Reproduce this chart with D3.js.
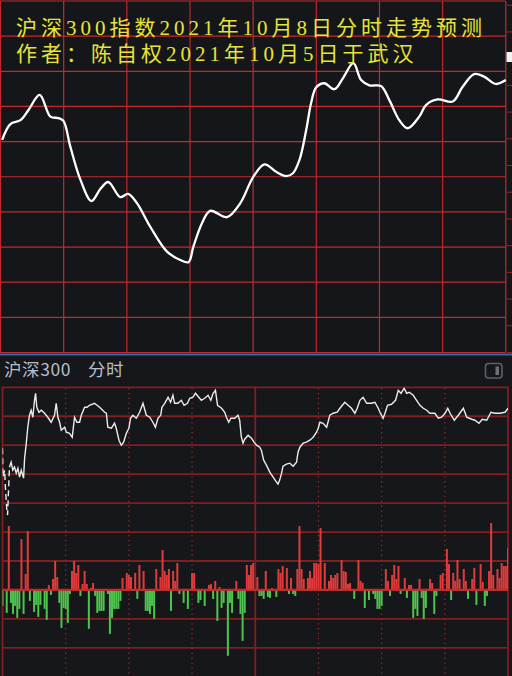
<!DOCTYPE html>
<html><head><meta charset="utf-8">
<script src="https://cdn.jsdelivr.net/npm/d3@7"></script>
<style>html,body{margin:0;padding:0;background:#151619;overflow:hidden}svg{display:block}</style>
</head><body>
<svg id="c" width="512" height="676"></svg>
<script>
// ---------- DATA ----------
const titleLines = ["沪深300指数2021年10月8日分时走势预测", "作者：陈自权2021年10月5日于武汉"];
const headerLabels = ["沪深300", "分时"];

// forecast curve (top panel): minute of session, index level
const forecastMinutes = [0.8,4.7,9.5,13.3,18.6,23.7,27.5,29.9,33.2,38,43.2,47.4,51.2,56.9,60.6,64.8,71.2,79.1,85.4,89.3,91.6,95.7,99.6,107.5,113.9,120,125.4,130.9,135.7,138.9,142,145.2,147.5,149.9,153.8,158.6,162.6,167.6,171.3,175.2,180.7,184.7,189.4,193.4,198.9,202.1,207.6,214.8,219.5,225,229.7,235.3,240];
const forecastValues = [4910.5,4915,4916.1,4919,4923.3,4917.1,4916.7,4915.9,4908.5,4899.1,4893.1,4896.5,4898.5,4894.2,4895.1,4892.5,4885.7,4878.7,4876.3,4875.7,4880.1,4886.8,4890.3,4888.5,4892.5,4899.9,4903.5,4901.4,4900.2,4901,4904.8,4913.3,4920.9,4925.4,4926.6,4924.9,4928,4932.3,4927.5,4926,4925.8,4921.8,4916.1,4913.8,4917.1,4920.4,4922,4921.4,4925.6,4929.2,4928.5,4926.4,4927.5];

// actual intraday line (bottom panel)
const actualMinutes = [0,0.2,1,1.4,2.1,2.4,3.3,4.1,4.9,5.7,
 6.5,7.3,8.1,8.9,10,10.5,11.3,12,12.8,13.6,
 14.4,15.2,15.7,16.3,17.3,18.4,20,21.5,23.1,24.7,
 25.5,26.3,27.1,27.9,29.5,30.3,31.8,33.1,34.2,35.3,
 36.6,37.4,39,40.1,41.3,43.7,46.1,48.5,49.3,50,
 51.7,53.2,54,55.3,56.4,57.5,58.8,60,60.8,61.9,
 63.5,65.1,66.7,68.3,69.9,71.4,72.6,73.8,75.1,75.7,
 77,78.6,79.8,80.9,81.7,83.3,84.9,86.2,87.8,88.9,
 90.4,91.6,92.8,94.4,96,97.6,98.9,100,101.1,102.1,
 104,105.5,106.3,107.4,108.4,110.3,111.8,112.6,113.4,114.2,
 115,116.6,118.2,119.4,120.6,122.1,122.9,124,125.3,126.9,
 128.5,130.1,130.8,131.6,132.5,133.2,134.8,136.4,138,139.6,
 140.3,141.2,142.7,144.3,145.9,147.5,149.1,149.9,150.7,152.2,
 153.9,155.4,157,158.9,160.2,162.5,164.1,165.7,167.3,168.4,
 169.7,171.2,172.9,175.2,176.8,178.4,179.2,180.7,181.6,182.8,
 184.7,186.6,187.9,189.2,190.7,191.9,193.1,195,196.6,198.2,
 199.8,201.4,202.9,205.3,206.9,208.5,210.1,211.4,212.5,214.5,
 216.4,218.8,220.4,222.8,224.3,226.2,227.8,229.9,231.9,233.8,
 236.2,238.6,240];
const actualValues = [4897,4868,4875,4857,4833,4830,4878,4883,4875,4878,
 4872,4877,4868,4875,4867,4887,4902,4918,4930,4935,
 4928,4945,4952,4938,4933,4935,4932,4928,4923,4930,
 4942,4928,4923,4915,4918,4913,4912,4908,4928,4923,
 4923,4930,4938,4938,4940,4942,4938,4933,4932,4918,
 4917,4922,4917,4905,4900,4903,4912,4917,4927,4930,
 4927,4933,4942,4930,4928,4923,4918,4927,4930,4938,
 4942,4948,4943,4950,4942,4942,4945,4940,4942,4947,
 4948,4952,4949,4945,4947,4950,4945,4952,4955,4940,
 4937,4933,4928,4923,4927,4927,4930,4925,4908,4902,
 4906,4910,4907,4903,4900,4898,4895,4885,4880,4873,
 4868,4863,4861,4865,4872,4879,4881,4882,4879,4883,
 4893,4898,4902,4903,4905,4908,4913,4917,4923,4922,
 4918,4930,4932,4933,4937,4943,4940,4937,4932,4937,
 4945,4948,4942,4942,4943,4937,4933,4927,4932,4940,
 4941,4945,4955,4952,4957,4952,4953,4950,4945,4940,
 4937,4935,4932,4932,4927,4928,4932,4937,4932,4925,
 4930,4937,4928,4926,4925,4922,4926,4925,4933,4932,
 4932,4933,4937];

// red / green bars (bottom panel)
const flowMinutes = [0,2,3,4,5,6,7,8,9,10,
 11,12,13,15,16,17,18,20,21,22,
 23,24,25,26,27,28,29,30,31,32,
 33,34,35,36,37,38,39,40,41,42,
 43,44,45,46,47,48,50,51,52,53,
 54,55,56,57,59,60,61,63,64,65,
 67,68,69,70,71,72,73,75,76,77,
 78,79,80,81,82,83,84,86,88,90,
 91,93,94,96,98,99,100,101,102,103,
 104,105,107,108,109,111,112,113,114,115,
 116,117,118,119,121,122,123,124,125,126,
 127,128,130,131,132,133,135,136,137,138,
 139,140,141,142,143,144,145,146,147,148,
 149,150,151,153,155,156,157,158,159,161,
 162,163,164,165,167,169,170,171,172,174,
 176,177,178,179,180,182,183,184,185,186,
 187,188,189,191,192,193,194,195,196,197,
 198,199,200,201,203,204,205,206,208,209,
 211,212,213,214,215,216,217,219,220,221,
 223,224,225,227,228,229,230,231,232,233,
 234,235,236,237,238,239,240];
const flowValues = [-16,-23,64,-13,-24,-16,-28,-19,51,-24,
 16,59,-11,-22,-15,-27,-15,-19,-30,5,
 -5,11,29,13,-13,-38,-18,-19,-33,-4,
 19,29,17,25,-6,6,19,6,-39,2,
 7,-6,-23,-21,-21,-21,-4,-44,-28,-19,
 -19,-19,-11,12,17,15,13,17,-9,25,
 19,-21,-21,-24,-16,-29,21,13,40,19,
 15,21,-21,19,9,27,-4,-13,-19,17,
 17,-13,-10,-16,5,6,-9,9,-31,3,
 -18,-13,-66,-13,-23,9,-9,-24,-51,-23,
 25,15,25,27,13,-6,-6,-9,19,-7,
 -8,2,-7,21,17,24,22,-4,12,-4,
 -6,21,64,21,11,-1,12,19,12,27,
 27,26,62,27,9,15,12,15,17,30,
 19,18,6,7,-9,30,9,7,-18,-10,
 -4,-9,-19,-19,-16,21,9,-6,15,25,
 11,24,-4,12,-8,5,5,-28,-19,-26,
 11,-8,-29,-18,11,7,-24,-6,15,17,
 41,26,-10,17,9,30,11,21,9,-9,
 11,22,-15,26,8,-16,-6,19,67,15,
 -1,21,12,27,24,24,42];

// ---------- DRAW ----------
const svg = d3.select("#c");
const W = 512, H = 676;

// ===== top panel =====
svg.append("rect").attr("x",0).attr("y",0).attr("width",W).attr("height",354).attr("fill","#151619");
const xTop = d3.scaleLinear().domain([0,240]).range([0.5,505.8]);
const yTop = d3.scaleLinear().domain([4850,4950]).range([352.5,1]);
const gTop = svg.append("g");
gTop.selectAll("line.h").data(d3.range(4850,4951,10)).join("line")
  .attr("x1",0).attr("x2",505.8).attr("y1",d=>yTop(d)).attr("y2",d=>yTop(d))
  .attr("stroke","#c2282c").attr("stroke-width",1.2);
gTop.selectAll("line.v").data(d3.range(0,241,30)).join("line")
  .attr("x1",d=>xTop(d)).attr("x2",d=>xTop(d)).attr("y1",1).attr("y2",352.5)
  .attr("stroke","#c2282c").attr("stroke-width",1.2);

// right edge ticks
gTop.selectAll("rect.tk").data(d3.range(4850,4951,7.6)).join("rect")
  .attr("x",507).attr("y",d=>yTop(d)-0.5).attr("width",5).attr("height",1).attr("fill","#9a2626");
gTop.append("rect").attr("x",506.5).attr("y",52).attr("width",5.5).attr("height",10).attr("fill","#f2f2f2");

const fLine = d3.line().x(d=>xTop(d[0])).y(d=>yTop(d[1])).curve(d3.curveCatmullRom.alpha(0.5));
gTop.append("path").datum(d3.zip(forecastMinutes, forecastValues))
  .attr("d",fLine).attr("fill","none").attr("stroke","#ffffff").attr("stroke-width",2.3)
  .attr("stroke-linejoin","round");

const tFont = "'Liberation Serif','Noto Sans CJK SC',serif";
gTop.selectAll("text.title").data(titleLines).join("text")
  .attr("x",16).attr("y",(d,i)=>35+i*25.5)
  .attr("font-family",tFont).attr("font-size",21).attr("letter-spacing",4)
  .attr("fill","#e6e43a").text(d=>d);

// blue separator
svg.append("rect").attr("x",0).attr("y",353.5).attr("width",W).attr("height",2.2).attr("fill","#2f6db3");

// ===== bottom panel =====
svg.append("rect").attr("x",0).attr("y",355.7).attr("width",W).attr("height",H-355.7).attr("fill","#16171a");
const hFont = "'Noto Sans CJK SC','Noto Sans',sans-serif";
svg.selectAll("text.hdr").data(headerLabels).join("text")
  .attr("x",(d,i)=>i===0?4:88).attr("y",376)
  .attr("font-family",hFont).attr("font-size",17.5).attr("letter-spacing",0.6)
  .attr("fill","#b4bfcb").text(d=>d);
// icon
svg.append("rect").attr("x",485.5).attr("y",363.5).attr("width",16.5).attr("height",14.5).attr("rx",3)
  .attr("fill","none").attr("stroke","#5b6068").attr("stroke-width",1.6);
svg.append("rect").attr("x",495.5).attr("y",366.5).attr("width",3.5).attr("height",8.5).attr("fill","#6c7179");

const xB = d3.scaleLinear().domain([0,240]).range([2.5,508]);
const yP = d3.scaleLinear().domain([4842,4958]).range([503.1,387.3]);
const yF = d3.scaleLinear().domain([-58,58]).range([647.85,532.05]);
const rowY = d3.scaleLinear().domain([0,10]).range([387.3,676.8]);

const gB = svg.append("g");
gB.selectAll("line.h").data(d3.range(0,11)).join("line")
  .attr("x1",2.5).attr("x2",508).attr("y1",d=>rowY(d)).attr("y2",d=>rowY(d))
  .attr("stroke","#7e1f20").attr("stroke-width",1.8);
gB.selectAll("line.vd").data([30,60,90,150,180,210]).join("line")
  .attr("x1",d=>xB(d)).attr("x2",d=>xB(d)).attr("y1",388).attr("y2",H)
  .attr("stroke","#9c2a2a").attr("stroke-width",1.2).attr("stroke-dasharray","1.3,3.6");
gB.selectAll("line.vs").data([0,120,240]).join("line")
  .attr("x1",d=>xB(d)).attr("x2",d=>xB(d)).attr("y1",386.5).attr("y2",H)
  .attr("stroke","#7e1f20").attr("stroke-width",1.8);

const clip = svg.append("clipPath").attr("id","bc");
clip.append("rect").attr("x",2.5).attr("y",387.3).attr("width",505.5).attr("height",300);
const gC = svg.append("g").attr("clip-path","url(#bc)");

gC.selectAll("rect.bar").data(d3.zip(flowMinutes, flowValues)).join("rect")
  .attr("x",d=>xB(d[0])-1).attr("width",2)
  .attr("y",d=>Math.min(yF(d[1]),yF(0)))
  .attr("height",d=>Math.abs(yF(d[1])-yF(0)))
  .attr("fill",d=>d[1]>=0?"#e03b3b":"#4dc44d");
gC.append("line").attr("x1",2.5).attr("x2",508).attr("y1",yF(0)).attr("y2",yF(0))
  .attr("stroke","#b8302f").attr("stroke-width",2.2);

// price line: broken opening auction segment, then continuous line
const pts = d3.zip(actualMinutes, actualValues);
const pLine = d3.line().x(d=>xB(d[0])).y(d=>yP(d[1]));
gC.append("path").datum(pts.slice(0,7))
  .attr("d",pLine).attr("fill","none").attr("stroke","#ececec").attr("stroke-width",1.4)
  .attr("stroke-dasharray","6,4");
gC.append("path").datum(pts.slice(6))
  .attr("d",pLine).attr("fill","none").attr("stroke","#ececec").attr("stroke-width",1.4)
  .attr("stroke-linejoin","miter");
</script>
</body></html>
